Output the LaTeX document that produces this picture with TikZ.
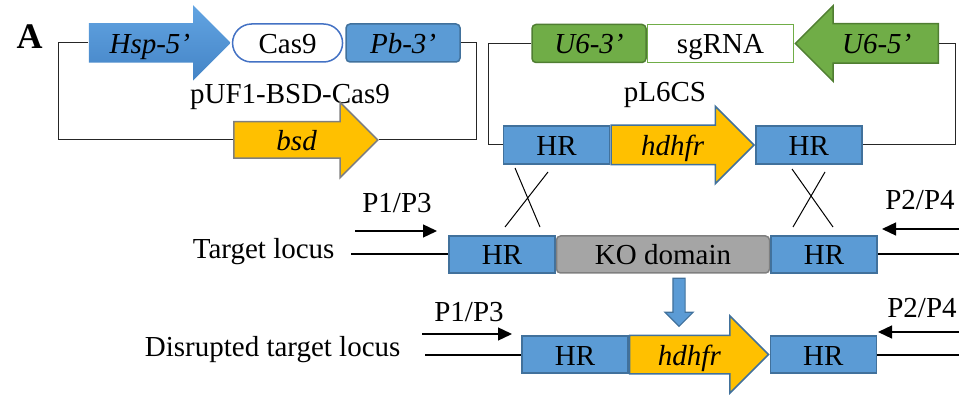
\documentclass[tikz,border=0pt]{standalone}
\usepackage{fontspec}
\setmainfont{Liberation Serif}
\usepackage{tikz}
\usetikzlibrary{arrows.meta}
\definecolor{hrblue}{RGB}{91,155,213}
\definecolor{hredge}{RGB}{65,113,156}
\definecolor{hsptop}{RGB}{98,164,226}
\definecolor{hspbottom}{RGB}{68,132,198}
\definecolor{casblue}{RGB}{68,114,196}
\definecolor{u6green}{RGB}{112,173,71}
\definecolor{u6edge}{RGB}{80,126,50}
\definecolor{markeryellow}{RGB}{255,192,0}
\definecolor{kogray}{RGB}{165,165,165}
\definecolor{koedge}{RGB}{127,127,127}
\usetikzlibrary{shapes,positioning}
\newcommand{\bigtext}{\fontsize{29pt}{32pt}\selectfont}

\begin{document}
\begin{tikzpicture}
    [x=1pt, y=1pt, node distance=0pt, font=\bigtext,
    hr/.style={rectangle, minimum width=106pt, minimum height=38pt, text height=21pt, text depth=0pt, inner sep=0pt, draw=hredge, fill=hrblue, line width=1.5pt},
    element/.style={rectangle, rounded corners=4pt, minimum height=38pt, text height=21pt, text depth=0pt, inner sep=0pt, line width=1.5pt},
    gene/.style={single arrow, single arrow head extend=18pt, single arrow head indent=0pt, minimum width=0pt, inner xsep=2pt, inner ysep=8.5pt, text height=21pt, text depth=0pt, line width=1.5pt, font=\bigtext\itshape},
    backbone/.style={line width=1pt, black!85},
    locus/.style={line width=2pt},
    primer/.style={-{Triangle[length=14pt,width=13pt]}, line width=1.3pt}]
    \useasboundingbox (0,0) rectangle (959,394);

    \node (panel) at (29.5,357) {\fontsize{36pt}{38pt}\selectfont\bfseries A};

    % pUF1-BSD-Cas9
    \node (puf) at (290,297) {pUF1-BSD-Cas9};
    \node (hsp) [gene, top color=hsptop, bottom color=hspbottom, minimum height=142pt, anchor=tail] at (88,351) {Hsp-5’};
    \node (cas9) [element, rounded corners=19pt, draw=casblue, fill=white, minimum width=110pt, right=0pt of hsp.tip] {Cas9};
    \node (pb3) [element, draw=hredge, fill=hrblue, minimum width=114pt, right=2pt of cas9] {\itshape Pb-3’};
    \node (bsd) [gene, draw=koedge, fill=markeryellow, minimum height=144pt, inner ysep=7pt, single arrow head extend=19.5pt, anchor=tail] at (233,254) {bsd};
    \draw[backbone] (hsp.tail) -- ++(-30,0) |- (bsd.tail);
    \draw[backbone] (pb3.east) -- ++(16,0) |- (bsd.tip);

    % pL6CS
    \node (pl6) at (665,299) {pL6CS};
    \node (u63) [element, draw=u6edge, fill=u6green, minimum width=114pt] at (589,350.5) {\itshape U6-3’};
    \node (sgrna) [element, sharp corners, draw=u6green, fill=white, minimum width=146pt, right=0pt of u63] {sgRNA};
    \node (u65) [gene, draw=u6edge, fill=u6green, shape border rotate=180, minimum height=143pt, anchor=tip] at (sgrna.east) {U6-5’};
    \node (hra) [hr] at (556.5,249) {HR};
    \node (dhfr) [gene, draw=hredge, fill=markeryellow, minimum height=143pt, single arrow head extend=19pt, anchor=tail] at (hra.east) {hdhfr};
    \node (hrb) [hr, right=0pt of dhfr.tip] {HR};
    \coordinate (pl6-corner) at (955,350.5);
    \draw[backbone] (u63.west) -- ++(-43,0) |- (hra.west);
    \draw[backbone] (u65.tail) -- (pl6-corner) |- (hrb.east);

    % crossover
    \draw[line width=1pt] (515,226) -- (540,167) (548,222) -- (505,167);
    \draw[line width=1pt] (792,225) -- (833,167) (825,222) -- (793,167);

    % target locus
    \node (target) [anchor=east] at (338,142) {Target locus};
    \node (hrc) [hr, minimum height=37pt] at (502,139.5) {HR};
    \node (ko) [element, draw=koedge, fill=kogray, minimum width=213pt, minimum height=37pt, right=0pt of hrc] {KO domain};
    \node (hrd) [hr, minimum height=37pt, right=0pt of ko] {HR};
    \coordinate (tl-left) at (351,139.5);
    \coordinate (tl-right) at (959,139.5);
    \draw[locus] (tl-left) -- (hrc);
    \draw[locus] (hrd) -- (tl-right);

    \node (p13a) at (397,191) {P1/P3};
    \coordinate (p13a-s) at (355,163);
    \coordinate (p13a-e) at (437,163);
    \draw[primer] (p13a-s) -- (p13a-e);
    \node (p24a) at (920,194) {P2/P4};
    \coordinate (p24a-s) at (959,165);
    \coordinate (p24a-e) at (882,165);
    \draw[primer] (p24a-s) -- (p24a-e);

    \node (down) [single arrow, shape border rotate=270, draw=hredge, fill=hrblue, line width=1.2pt, minimum height=48pt, minimum width=0pt, inner sep=5.5pt, single arrow head extend=8pt, single arrow head indent=0pt, anchor=tail] at ([xshift=16pt,yshift=-4pt]ko.south) {};

    % disrupted target locus
    \node (disrupted) [anchor=east] at (404,44) {Disrupted target locus};
    \node (hre) [hr, minimum height=37pt] at (575,39.5) {HR};
    \node (dhfr2) [gene, draw=hredge, fill=markeryellow, minimum height=139pt, inner ysep=8pt, single arrow head extend=19.5pt, anchor=tail] at (hre.east) {hdhfr};
    \node (hrf) [hr, minimum height=37pt, right=0pt of dhfr2.tip] {HR};
    \coordinate (dl-left) at (425,39.5);
    \coordinate (dl-right) at (959,39.5);
    \draw[locus] (dl-left) -- (hre);
    \draw[locus] (hrf) -- (dl-right);

    \node (p13b) at (469,82) {P1/P3};
    \coordinate (p13b-s) at (422,60);
    \coordinate (p13b-e) at (512,60);
    \draw[primer] (p13b-s) -- (p13b-e);
    \node (p24b) at (922,86) {P2/P4};
    \coordinate (p24b-s) at (959,62);
    \coordinate (p24b-e) at (878,62);
    \draw[primer] (p24b-s) -- (p24b-e);
\end{tikzpicture}
\end{document}
